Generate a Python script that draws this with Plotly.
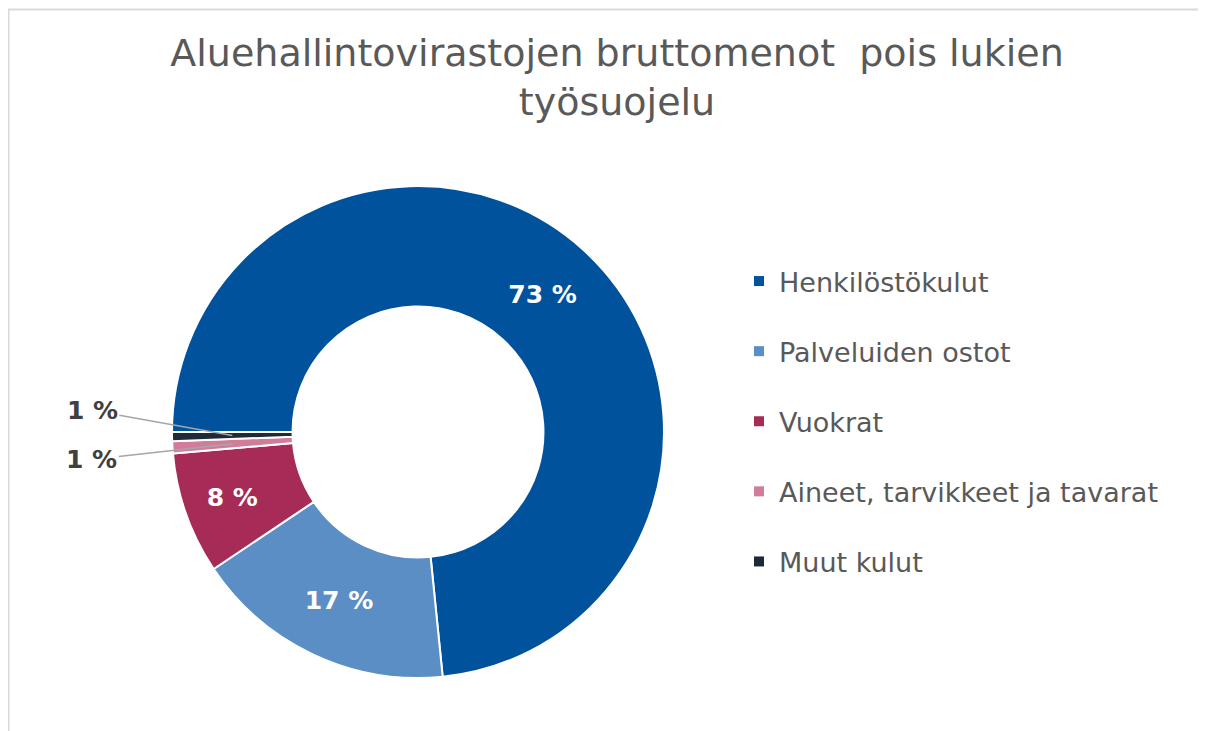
import math
import plotly.graph_objects as go

# Aluehallintovirastojen bruttomenot (osuudet, %)
labels = ['Henkilöstökulut', 'Palveluiden ostot', 'Vuokrat',
          'Aineet, tarvikkeet ja tavarat', 'Muut kulut']
values = [73.4, 17.2, 8.0, 0.8, 0.6]
colors = ['#00529C', '#5A8EC5', '#A62B56', '#D27C9B', '#1E2A3A']
title_text = 'Aluehallintovirastojen bruttomenot  pois lukien<br>työsuojelu'

W, H = 1206, 731
OFF = 8  # selaimen sivun reunus siirtää kuvaa
total = sum(values)
pct_text = [f'{round(v / total * 100)} %' for v in values]
small = [v / total < 0.03 for v in values]

# donitsin paikka pikseleinä
cx, cy, R = 418 - OFF, 432 - OFF, 246
HOLE = 0.51
ROT = 270  # ensimmäinen sektori alkaa klo 9 kohdalta

FONT = 'Verdana, DejaVu Sans'

fig = go.Figure()

fig.add_trace(go.Pie(
    labels=labels,
    values=values,
    text=pct_text,
    textinfo='text',
    textposition=['none' if s else 'inside' for s in small],
    insidetextorientation='horizontal',
    insidetextfont=dict(family=FONT, size=25, color='white', weight='bold'),
    hole=HOLE,
    sort=False,
    direction='clockwise',
    rotation=ROT,
    marker=dict(colors=colors, line=dict(color='white', width=2)),
    domain=dict(x=[(cx - R) / W, (cx + R) / W],
                y=[1 - (cy + R) / H, 1 - (cy - R) / H]),
    showlegend=False,
))

# selite erillisinä jälkinä, jotta rivivälit saadaan kuvan mukaisiksi
for lab, col in zip(labels, colors):
    fig.add_trace(go.Scatter(
        x=[None], y=[None], mode='markers', name=lab, legendgroup=lab,
        marker=dict(symbol='square', size=10, color=col),
    ))

# pienten sektorien ulkopuoliset prosenttiluvut ohjausviivoineen
cum = 0
offsets = {3: (-141, 16), 4: (-140, -25)}
for i, v in enumerate(values):
    mid = cum + v / 2
    cum += v
    if not small[i]:
        continue
    ang = math.radians(ROT + 360 * mid / total)
    rm = R * (1 + HOLE) / 2
    px = cx + rm * math.sin(ang)
    py = cy - rm * math.cos(ang)
    ax, ay = offsets[i]
    fig.add_annotation(
        x=px / W, y=1 - py / H, xref='paper', yref='paper',
        text=pct_text[i], showarrow=True, arrowhead=0, arrowwidth=1.5,
        arrowcolor='#A6A6A6', ax=ax, ay=ay,
        font=dict(family=FONT, size=25, color='#404040', weight='bold'),
    )

fig.add_shape(type='rect', xref='paper', yref='paper',
              x0=0.5 / W, x1=1.02, y0=-0.02, y1=1 - 1.5 / H,
              line=dict(color='#D9D9D9', width=2))

fig.update_layout(
    width=W, height=H,
    margin=dict(l=0, r=0, t=0, b=0),
    paper_bgcolor='white', plot_bgcolor='white',
    title=dict(text=title_text, x=0.505, xanchor='center',
               y=1 - 58 / H, yanchor='top',
               font=dict(family=FONT, size=38, color='#595959')),
    xaxis=dict(visible=False), yaxis=dict(visible=False),
    legend=dict(x=731 / W, y=1 - 249 / H, xanchor='left', yanchor='top',
                font=dict(family=FONT, size=27, color='#595959'),
                tracegroupgap=32, itemclick=False, itemdoubleclick=False),
)

fig.write_html('out.html')
